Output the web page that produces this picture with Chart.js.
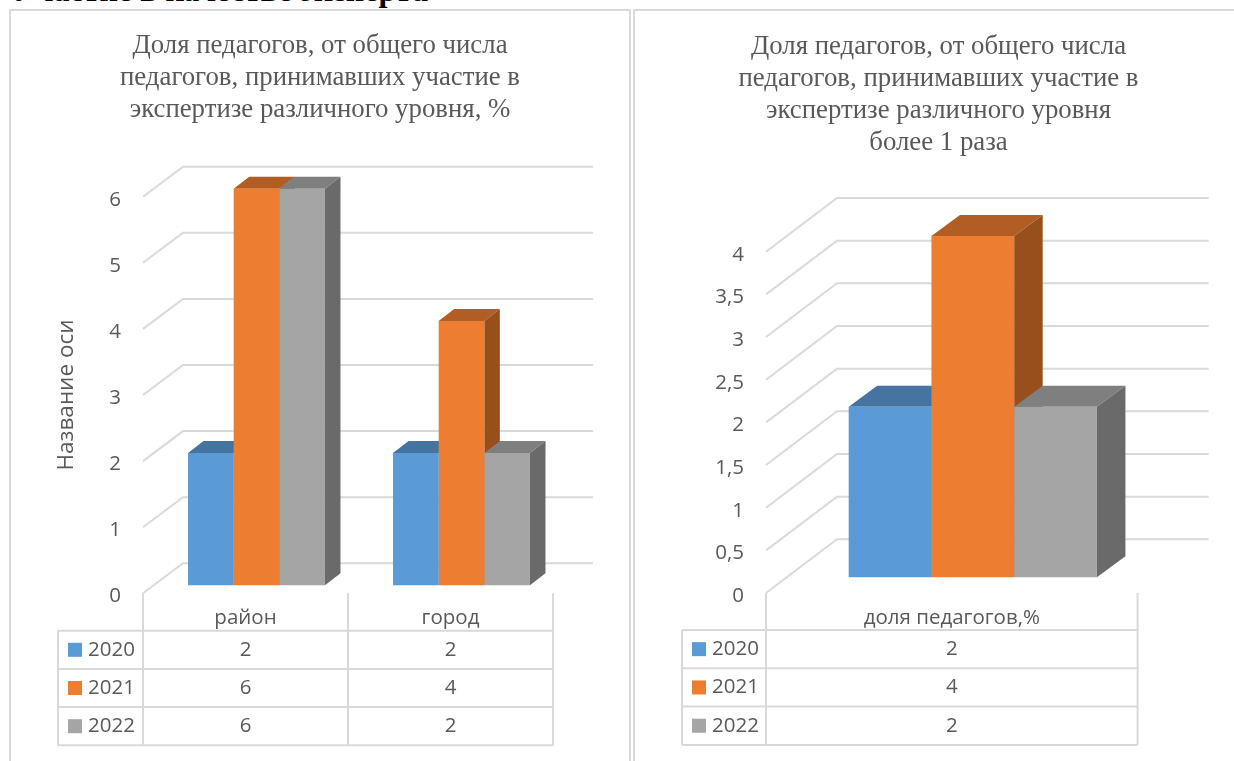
<!DOCTYPE html>
<html lang="ru">
<head>
<meta charset="utf-8">
<title>Участие в качестве эксперта</title>
<script src="https://cdn.jsdelivr.net/npm/chart.js@4"></script>
<style>
  html, body { margin: 0; background: #fff; width: 1234px; height: 761px; overflow: hidden; }
  canvas { position: absolute; top: 0; }
  #heading { position: absolute; left: 12px; top: -28px; font: bold 32px "Liberation Serif", serif; color: #000; white-space: nowrap; }
  .line { position: absolute; background: #d9d9d9; }
</style>
</head>
<body>
<div id="heading">Участие в качестве эксперта</div>
<div class="line" style="left:9px;top:9px;width:2px;height:752px"></div>
<div class="line" style="left:9px;top:9px;width:621px;height:2px"></div>
<div class="line" style="left:629px;top:9px;width:2px;height:752px"></div>
<div class="line" style="left:633px;top:9px;width:2px;height:752px"></div>
<div class="line" style="left:633px;top:9px;width:601px;height:2px"></div>
<canvas id="chartLeft" width="620" height="761" style="left:10px"></canvas>
<canvas id="chartRight" width="587" height="761" style="left:645px"></canvas>
<script>
// Data
const seriesNames = ["2020", "2021", "2022"];
const leftCategories = ["район", "город"];
const left2020 = [2, 2];
const left2021 = [6, 4];
const left2022 = [6, 2];
const leftTicks = ["0", "1", "2", "3", "4", "5", "6"];
const rightCategories = ["доля педагогов,%"];
const right2020 = [2];
const right2021 = [4];
const right2022 = [2];
const rightTicks = ["0", "0,5", "1", "1,5", "2", "2,5", "3", "3,5", "4"];

const leftTitle = ["Доля педагогов, от общего числа", "педагогов, принимавших участие в", "экспертизе различного уровня, %"];
const rightTitle = ["Доля педагогов, от общего числа", "педагогов, принимавших участие в", "экспертизе различного уровня", "более 1 раза"];

const faceColors = ["#5b9bd5", "#ed7d31", "#a5a5a5"];
const topColors = ["#44749f", "#b25d23", "#7f7f7f"];
const sideColors = ["#3c6790", "#974f1b", "#6a6a6a"];
const textColor = "#595959";
const lineColor = "#d9d9d9";
const uiFont = '"Open Sans"';

// Pseudo 3D walls, bar boxes and the data table
const box3d = {
  id: "box3d",
  afterLayout(chart) {
    // center the title on the whole canvas, not on the padded area
    chart.titleBlock.left = 0;
    chart.titleBlock.right = chart.width;
  },
  beforeDatasetsDraw(chart, args, o) {
    const { ctx, chartArea: a } = chart;
    const y = chart.scales.y;
    ctx.save();
    ctx.strokeStyle = lineColor;
    ctx.lineWidth = 2;
    y.ticks.forEach(t => {
      const py = y.getPixelForValue(t.value);
      ctx.beginPath();
      ctx.moveTo(a.left, py);
      ctx.lineTo(a.left + o.wallDx, py + o.wallDy);
      ctx.lineTo(a.right + o.wallDx, py + o.wallDy);
      ctx.stroke();
    });
    ctx.restore();
    ctx.save();
    ctx.translate(o.barDx, o.barDy);
    // tops and sides left to right, chart.js paints the front faces after this
    chart.data.datasets.forEach((ds, i) => {
      chart.getDatasetMeta(i).data.forEach(el => {
        const { x, y, base, width } = el.getProps(["x", "y", "base", "width"], true);
        const l = x - width / 2, r = x + width / 2;
        ctx.fillStyle = topColors[i];
        ctx.beginPath();
        ctx.moveTo(l, y);
        ctx.lineTo(l + o.sideDx, y + o.sideDy);
        ctx.lineTo(r + o.sideDx, y + o.sideDy);
        ctx.lineTo(r, y);
        ctx.fill();
        ctx.fillStyle = sideColors[i];
        ctx.beginPath();
        ctx.moveTo(r, y);
        ctx.lineTo(r + o.sideDx, y + o.sideDy);
        ctx.lineTo(r + o.sideDx, base + o.sideDy);
        ctx.lineTo(r, base);
        ctx.fill();
      });
    });
  },
  afterDatasetsDraw(chart) {
    chart.ctx.restore();
  },
  afterDraw(chart, args, o) {
    const { ctx, chartArea: a, scales } = chart;
    const xs = scales.x;
    const n = chart.data.labels.length;
    const step = (a.right - a.left) / n;
    const top = a.bottom + o.tableTop;
    const rows = chart.data.datasets.length;
    const bottom = top + rows * o.rowH;
    const tl = a.left - o.headerW;
    ctx.save();
    ctx.strokeStyle = lineColor;
    ctx.lineWidth = 2;
    ctx.beginPath();
    for (let c = 0; c <= n; c++) {
      ctx.moveTo(a.left + c * step, a.bottom);
      ctx.lineTo(a.left + c * step, bottom);
    }
    ctx.moveTo(tl, top);
    ctx.lineTo(tl, bottom);
    for (let r = 0; r <= rows; r++) {
      ctx.moveTo(tl, top + r * o.rowH);
      ctx.lineTo(a.right, top + r * o.rowH);
    }
    ctx.stroke();
    ctx.font = "20.5px " + uiFont;
    ctx.textBaseline = "middle";
    chart.data.datasets.forEach((ds, r) => {
      const cy = top + (r + 0.5) * o.rowH;
      ctx.fillStyle = faceColors[r];
      ctx.fillRect(tl + 10, cy - 7, 14, 14);
      ctx.fillStyle = textColor;
      ctx.textAlign = "left";
      ctx.fillText(ds.label, tl + 30, cy);
      ctx.textAlign = "center";
      ds.data.forEach((v, c) => ctx.fillText(String(v), xs.getPixelForValue(c), cy));
    });
    ctx.restore();
  }
};

function makeChart(id, cats, vals, tickLabels, maxY, stepY, title, titlePad, yTitle, geo) {
  return new Chart(document.getElementById(id), {
    type: "bar",
    data: {
      labels: cats,
      datasets: seriesNames.map((s, i) => ({
        label: s,
        data: vals[i],
        backgroundColor: faceColors[i],
        clip: false,
        categoryPercentage: 0.668,
        barPercentage: 1
      }))
    },
    options: {
      responsive: false,
      animation: false,
      layout: { padding: { left: 0, right: geo.rightPad, top: 0, bottom: 0 } },
      plugins: {
        legend: { display: false },
        tooltip: { enabled: false },
        title: {
          display: true,
          text: title,
          color: textColor,
          font: { family: '"Liberation Serif"', size: 26.8, weight: "normal", lineHeight: 32 / 26.8 },
          padding: titlePad
        },
        box3d: geo
      },
      scales: {
        x: {
          grid: { display: false },
          border: { display: false },
          ticks: { color: textColor, font: { family: uiFont, size: 20.5 }, padding: 5, maxRotation: 0 },
          afterFit(s) { s.height = geo.xHeight; }
        },
        y: {
          min: 0,
          max: maxY,
          grid: { display: false, drawTicks: false },
          border: { display: false },
          title: yTitle
            ? { display: true, text: yTitle, color: textColor, font: { family: uiFont, size: 22.5 }, padding: { top: 43, bottom: 0 } }
            : { display: false },
          ticks: {
            stepSize: stepY,
            padding: 22,
            labelOffset: 3,
            color: textColor,
            font: { family: uiFont, size: 20.5 },
            callback: (v, i) => tickLabels[i]
          },
          afterFit(s) { s.width = geo.yWidth; }
        }
      }
    },
    plugins: [box3d]
  });
}

makeChart("chartLeft", leftCategories, [left2020, left2021, left2022], leftTicks, 6, 1,
  leftTitle, { top: 30, bottom: 70.7 }, "Название оси", {
    yWidth: 133, rightPad: 77, xHeight: 167.7,
    wallDx: 40, wallDy: -30, barDx: 11, barDy: -8, sideDx: 15.5, sideDy: -12,
    tableTop: 37.4, rowH: 38.2, headerW: 85
  });

makeChart("chartRight", rightCategories, [right2020, right2021, right2022], rightTicks, 4, 0.5,
  rightTitle, { top: 31, bottom: 92.7 }, null, {
    yWidth: 121, rightPad: 94.4, xHeight: 168,
    wallDx: 71, wallDy: -53.7, barDx: 21, barDy: -15.7, sideDx: 28.5, sideDy: -21,
    tableTop: 37, rowH: 38.3, headerW: 84
  });
</script>
</body>
</html>
